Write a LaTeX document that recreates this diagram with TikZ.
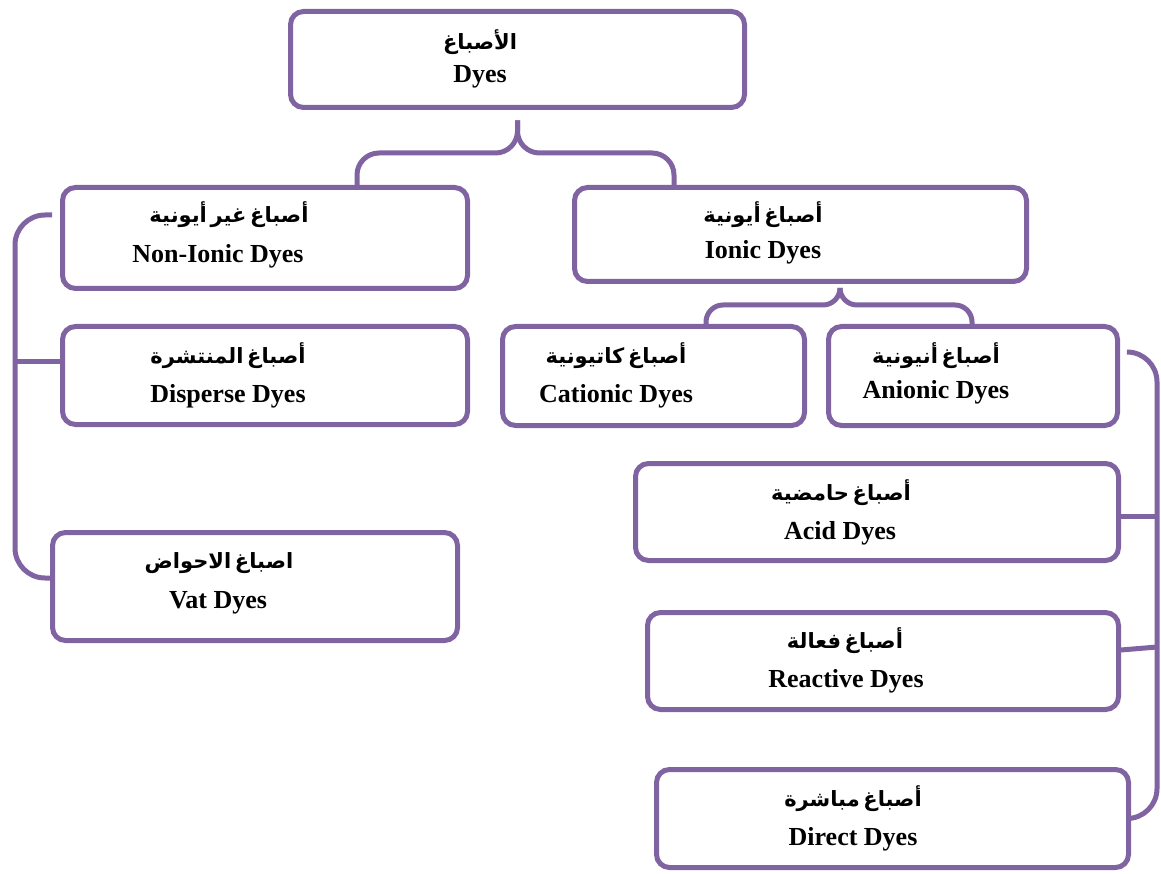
\documentclass[tikz,border=0pt]{standalone}
\usepackage{fontspec}
\setmainfont{Liberation Serif}
\newfontfamily\arabicfont[Script=Arabic,WordSpace=0.5]{DejaVu Sans}
\TeXXeTstate=1
\usetikzlibrary{calc}
\definecolor{dyepurple}{RGB}{128,100,162}
\tikzset{
  box/.style={draw=dyepurple, line width=5pt, rounded corners=13pt, inner sep=0pt, fill=white},
  link/.style={draw=dyepurple, line width=5pt},
  en/.style={font=\fontsize{26}{30}\selectfont\bfseries, anchor=base, inner sep=0pt},
  ar/.style={font=\arabicfont\bfseries\fontsize{21}{24}\selectfont, anchor=base, inner sep=0pt}
}
\newcommand{\ar}[1]{\beginR #1\endR}
\begin{document}
\begin{tikzpicture}[x=1pt,y=-1pt]
\useasboundingbox (0,0) rectangle (1161,874);
% boxes
\node[box, minimum width=454pt, minimum height=96pt]  (dyes)     at (517.5,59.5) {};
\node[box, minimum width=405pt, minimum height=101pt] (nonionic) at (265,238) {};
\node[box, minimum width=452pt, minimum height=94pt]  (ionic)    at (800.5,234.5) {};
\node[box, minimum width=405pt, minimum height=98pt]  (disperse) at (265,375.5) {};
\node[box, minimum width=302pt, minimum height=99pt]  (cationic) at (653.5,376) {};
\node[box, minimum width=289pt, minimum height=99pt]  (anionic)  at (973,376) {};
\node[box, minimum width=483pt, minimum height=97pt]  (acid)     at (877,512) {};
\node[box, minimum width=471pt, minimum height=97pt]  (reactive) at (883,661) {};
\node[box, minimum width=472pt, minimum height=98pt]  (direct)   at (892.5,818.5) {};
\node[box, minimum width=405pt, minimum height=108pt] (vat)      at (255,586.5) {};
% texts
\node[ar] (t1a) at (480,50)  {\arabicfont\ar{الأصباغ}};
\node[en] (t1e) at (480,83)  {Dyes};
\node[ar] (t2a) at (229,223) {\arabicfont\ar{أصباغ غير أيونية}};
\node[en] (t2e) at (218,263) {Non-Ionic Dyes};
\node[ar] (t3a) at (763,223) {\arabicfont\ar{أصباغ أيونية}};
\node[en] (t3e) at (763,259) {Ionic Dyes};
\node[ar] (t4a) at (228,363) {\arabicfont\ar{أصباغ المنتشرة}};
\node[en] (t4e) at (228,402) {Disperse Dyes};
\node[ar] (t5a) at (616,363) {\arabicfont\ar{أصباغ كاتيونية}};
\node[en] (t5e) at (616,402) {Cationic Dyes};
\node[ar] (t6a) at (936,363) {\arabicfont\ar{أصباغ أنيونية}};
\node[en] (t6e) at (936,398) {Anionic Dyes};
\node[ar] (t7a) at (841,500) {\arabicfont\ar{أصباغ حامضية}};
\node[en] (t7e) at (840,539) {Acid Dyes};
\node[ar] (t8a) at (845,648) {\arabicfont\ar{أصباغ فعالة}};
\node[en] (t8e) at (846,687) {Reactive Dyes};
\node[ar] (t9a) at (853,806) {\arabicfont\ar{أصباغ مباشرة}};
\node[en] (t9e) at (853,845) {Direct Dyes};
\node[ar] (t10a) at (219,568) {\arabicfont\ar{اصباغ الاحواض}};
\node[en] (t10e) at (218,608) {Vat Dyes};
% top brace
\coordinate (b1tip) at ($(dyes.south)+(0,10.5)$);
\draw[link, rounded corners=22pt] ($(nonionic.north)+(92,0)$) |- (b1tip |- 0,153) -- (b1tip);
\draw[link, rounded corners=22pt] ($(ionic.north)+(-126.5,0)$) |- (b1tip |- 0,153) -- (b1tip);
% second brace
\coordinate (b2tip) at ($(ionic.south)+(39.5,5)$);
\draw[link, rounded corners=17pt] ($(cationic.north)+(52.5,0)$) |- (b2tip |- 0,305) -- (b2tip);
\draw[link, rounded corners=17pt] ($(anionic.north)+(-1,0)$) |- (b2tip |- 0,305) -- (b2tip);
% left bracket
\coordinate (lb) at (52,215);
\draw[link, rounded corners=30pt] (lb) -- (15,215) -- (15,578) -- ($(vat.west)+(0,-8.5)$);
\draw[link] (15,361) -- ($(disperse.west)+(0,-14.5)$);
% right bracket
\coordinate (rb) at (1128,352);
\draw[link, rounded corners=30pt] (rb) -- (1157,352) -- (1157,818.5) -- (direct.east);
\draw[link] ($(acid.east)+(0,4)$) -- (1157,516);
\draw[link] ($(reactive.east)+(0,-11)$) -- (1157,647);
\end{tikzpicture}
\end{document}
